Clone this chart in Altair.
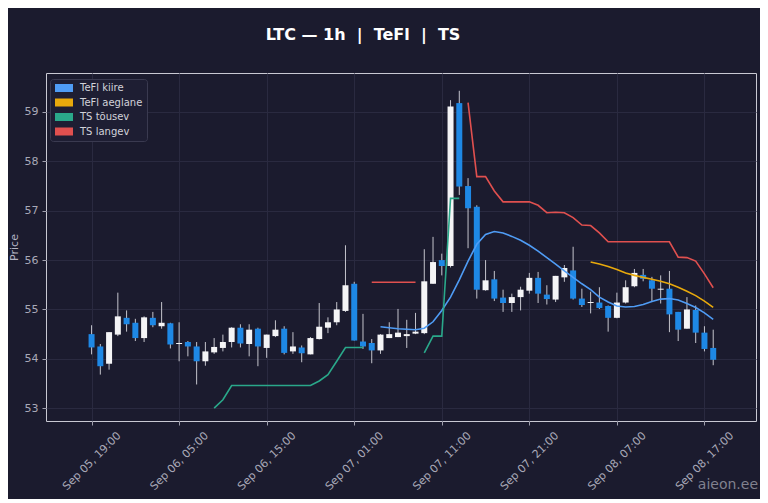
import pandas as pd
import altair as alt

# --- data (LTC, 1h candles) ---
start = "2025-09-05 19:00"
opens = [54.50, 54.25, 53.90, 54.49, 54.83, 54.73, 54.42, 54.83, 54.66, 54.72,
         54.30, 54.34, 54.25, 53.95, 54.13, 54.22, 54.34, 54.63, 54.30, 54.61,
         54.22, 54.46, 54.61, 54.15, 54.23, 54.09, 54.40, 54.63, 54.74, 54.97,
         55.52, 54.35, 54.32, 54.17, 54.42, 54.44, 54.46, 54.51, 54.52, 55.52,
         56.00, 55.88, 59.18, 57.50, 57.08, 55.39, 55.61, 55.24, 55.13, 55.25,
         55.38, 55.64, 55.30, 55.20, 55.65, 55.79, 55.22, 55.13, 55.14, 55.07,
         54.83, 55.14, 55.47, 55.70, 55.59, 55.40, 55.42, 54.95, 54.61, 54.99,
         54.53, 54.22]
highs = [54.68, 54.30, 54.54, 55.34, 54.98, 54.81, 54.86, 54.95, 55.15, 54.73,
         54.74, 54.36, 54.34, 54.34, 54.42, 54.49, 54.64, 54.70, 54.70, 54.63,
         54.49, 54.78, 54.66, 54.54, 54.27, 54.44, 55.13, 54.84, 55.15, 56.30,
         55.56, 54.91, 54.40, 54.50, 54.74, 55.01, 54.79, 54.93, 56.22, 56.47,
         56.13, 59.24, 59.43, 57.66, 57.11, 56.00, 55.78, 55.40, 55.32, 55.46,
         55.74, 55.76, 55.49, 55.68, 55.90, 56.27, 55.42, 55.36, 55.45, 55.08,
         55.34, 55.59, 55.82, 55.82, 55.66, 55.69, 55.78, 54.95, 55.25, 55.08,
         54.66, 54.59]
lows = [54.09, 53.68, 53.78, 54.46, 54.55, 54.36, 54.34, 54.64, 54.61, 54.21,
        53.95, 54.05, 53.48, 53.86, 54.10, 54.15, 54.23, 54.23, 54.05, 53.85,
        54.02, 54.44, 54.09, 54.10, 53.93, 54.09, 54.39, 54.52, 54.68, 54.95,
        54.37, 54.20, 53.91, 54.10, 54.42, 54.44, 54.22, 54.50, 54.50, 55.52,
        55.69, 55.85, 57.32, 56.24, 55.22, 55.38, 55.17, 54.95, 54.95, 54.98,
        55.32, 55.13, 55.10, 55.15, 55.56, 55.20, 55.05, 54.92, 55.01, 54.55,
        54.82, 55.12, 55.45, 55.57, 55.15, 55.12, 54.54, 54.36, 54.61, 54.32,
        54.15, 53.87]
closes = [54.23, 53.85, 54.54, 54.86, 54.70, 54.42, 54.84, 54.68, 54.73, 54.29,
          54.32, 54.25, 53.95, 54.15, 54.24, 54.34, 54.63, 54.31, 54.59, 54.25,
          54.49, 54.59, 54.12, 54.25, 54.11, 54.42, 54.65, 54.74, 55.00, 55.49,
          54.37, 54.25, 54.17, 54.49, 54.50, 54.53, 54.50, 54.55, 55.57, 55.96,
          55.88, 59.11, 57.49, 57.05, 55.40, 55.59, 55.22, 55.13, 55.25, 55.40,
          55.64, 55.32, 55.21, 55.68, 55.84, 55.22, 55.09, 55.15, 55.03, 54.83,
          55.14, 55.45, 55.74, 55.62, 55.42, 55.42, 54.90, 54.59, 55.00, 54.53,
          54.20, 53.98]

# indicator lines: (first candle index, values)
tefl_fast_start = 33
tefl_fast = [54.65, 54.63, 54.61, 54.60, 54.59, 54.62, 54.75, 54.98, 55.25, 55.60,
             55.98, 56.32, 56.52, 56.58, 56.55, 56.48, 56.40, 56.30, 56.18, 56.05,
             55.92, 55.78, 55.65, 55.52, 55.40, 55.25, 55.15, 55.07, 55.05, 55.06,
             55.10, 55.16, 55.21, 55.22, 55.19, 55.12, 55.04, 54.93, 54.80]
tefl_slow_start = 57
tefl_slow = [55.96, 55.92, 55.87, 55.81, 55.74, 55.69, 55.65, 55.61, 55.57, 55.52,
             55.45, 55.37, 55.28, 55.17, 55.04]
ts_up_1_start = 14
ts_up_1 = [53.00, 53.17, 53.46, 53.46, 53.46, 53.46, 53.46, 53.46, 53.46, 53.46,
           53.46, 53.46, 53.55, 53.68, 53.95, 54.23, 54.23, 54.23]
ts_up_2_start = 38
ts_up_2 = [54.12, 54.46, 54.46, 57.25, 57.25]
ts_down_1_start = 32
ts_down_1 = [55.55, 55.55, 55.55, 55.55, 55.55, 55.55]
ts_down_2_start = 43
ts_down_2 = [59.19, 57.69, 57.69, 57.40, 57.18, 57.18, 57.18, 57.18, 57.11, 56.96,
             56.97, 56.96, 56.86, 56.71, 56.70, 56.55, 56.37, 56.37, 56.37, 56.37,
             56.37, 56.37, 56.37, 56.37, 56.06, 56.05, 55.98, 55.72, 55.44]

series_names = ["TeFl kiire", "TeFl aeglane", "TS tõusev", "TS langev"]
series_colors = ["#4f9cf5", "#e8a90c", "#2aa88a", "#e0504f"]
tick_times = [(2025, 9, 5, 19), (2025, 9, 6, 5), (2025, 9, 6, 15), (2025, 9, 7, 1),
              (2025, 9, 7, 11), (2025, 9, 7, 21), (2025, 9, 8, 7), (2025, 9, 8, 17)]

BG = "#1b1b2e"
times = pd.date_range(start, periods=len(opens), freq="h")
candles = pd.DataFrame({"t": times, "open": opens, "high": highs,
                        "low": lows, "close": closes})

rows = []
for name, seg, first, vals in [
    ("TeFl kiire", 0, tefl_fast_start, tefl_fast),
    ("TeFl aeglane", 0, tefl_slow_start, tefl_slow),
    ("TS tõusev", 0, ts_up_1_start, ts_up_1),
    ("TS tõusev", 1, ts_up_2_start, ts_up_2),
    ("TS langev", 0, ts_down_1_start, ts_down_1),
    ("TS langev", 1, ts_down_2_start, ts_down_2),
]:
    for i, v in enumerate(vals):
        rows.append({"t": times[first + i], "series": name, "seg": seg, "v": v})
lines = pd.DataFrame(rows)

x_scale = alt.Scale(domain=[alt.DateTime(year=2025, month=9, date=5, hours=14, minutes=22),
                            alt.DateTime(year=2025, month=9, date=8, hours=22, minutes=19)])
y_scale = alt.Scale(domain=[52.74, 59.79], nice=False, zero=False)
color_scale = alt.Scale(domain=series_names, range=series_colors)

x_enc = alt.X("t:T", scale=x_scale, title=None,
              axis=alt.Axis(values=[alt.DateTime(year=y, month=m, date=d, hours=h)
                                    for y, m, d, h in tick_times],
                            format="%b %d, %H:%M", labelAngle=-45, labelFontSize=11,
                            labelAlign="center", labelBaseline="middle",
                            labelPadding=36))

base = alt.Chart(candles).encode(x=x_enc)

wick = base.mark_rule(color="#c4c4cc", strokeWidth=1).encode(
    y=alt.Y("low:Q", scale=y_scale, title="Price",
            axis=alt.Axis(values=[53, 54, 55, 56, 57, 58, 59], labelPadding=4,
                          titlePadding=5)),
    y2="high:Q",
)
body = base.mark_bar(size=6).encode(
    y="open:Q",
    y2="close:Q",
    color=alt.condition("datum.close >= datum.open",
                        alt.value("#f4f4f6"), alt.value("#1e88e5")),
)

ind = alt.Chart(lines).mark_line(strokeCap="butt").encode(
    x="t:T",
    y="v:Q",
    detail="seg:N",
    color=alt.Color("series:N", scale=color_scale, legend=None),
    strokeWidth=alt.StrokeWidth("series:N", legend=None,
                                scale=alt.Scale(domain=series_names,
                                                range=[1.6, 1.6, 2.2, 2.2])),
)

# legend only: filled 18x8 rectangle swatches like the original legend patches
swatch = "M-1,-1L3.5,-1L3.5,1L-1,1Z"
key = alt.Chart(lines).transform_filter("false").mark_point(
    filled=True, shape=swatch, size=64, opacity=1
).encode(
    x="t:T",
    y="v:Q",
    color=alt.Color("series:N", title=None, scale=color_scale,
                    legend=alt.Legend(orient="none", legendX=4, legendY=6,
                                      symbolType=swatch, symbolSize=64,
                                      symbolStrokeWidth=0, symbolOpacity=1,
                                      rowPadding=4.5, labelOffset=16, padding=4,
                                      cornerRadius=3,
                                      fillColor="#1e1e33", strokeColor="#3a3a50",
                                      labelColor="#d2d2da", labelFontSize=10,
                                      labelFont="DejaVu Sans")),
)

mark = alt.Chart(pd.DataFrame({"w": ["aieon.ee"]})).mark_text(
    align="right", baseline="middle", fontSize=14, color="#9a9aa6",
    font="DejaVu Sans", opacity=0.8,
).encode(text="w:N", x=alt.value(712), y=alt.value(412))

chart = alt.layer(key, wick, body, ind, mark).resolve_legend(
    color="independent"
).properties(
    width=710, height=348,
    autosize=alt.AutoSizeParams(type="none"),
    padding={"left": 38, "top": 65, "right": 4, "bottom": 78},
    background=BG,
    title=alt.TitleParams("LTC — 1h\u00a0 |\u00a0 TeFl\u00a0 |\u00a0 TS", color="#ffffff",
                          fontSize=16, fontWeight="bold", font="DejaVu Sans",
                          anchor="middle", dx=-38, offset=30),
).configure_view(
    stroke="#c9c9d3", strokeWidth=1, fill=BG,
).configure_axis(
    gridColor="#2a2a40", domain=False, tickColor="#a0a0ae", tickSize=4,
    labelColor="#a9a9b8", labelFont="DejaVu Sans", labelFontSize=11,
    titleColor="#b4b4c4", titleFont="DejaVu Sans", titleFontSize=11,
    titleFontWeight="normal",
)

chart.save("out.html", embed_options={"renderer": "svg", "actions": False})
